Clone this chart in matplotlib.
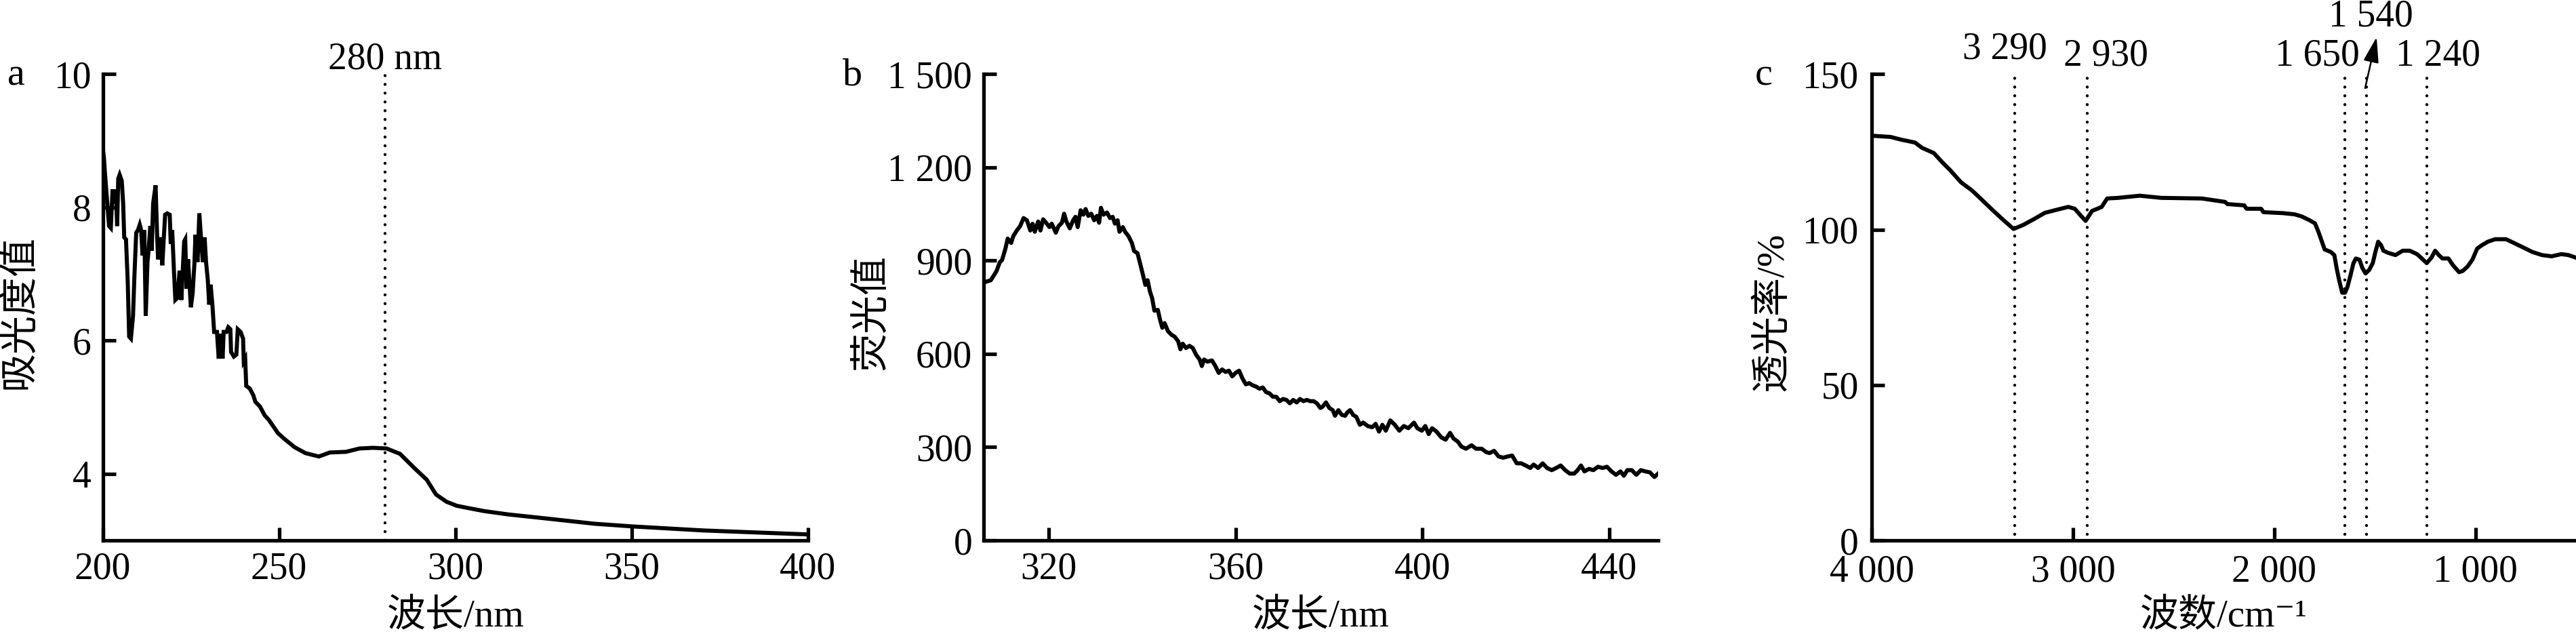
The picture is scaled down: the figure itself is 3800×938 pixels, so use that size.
import numpy as np
import matplotlib
matplotlib.use("Agg")
import matplotlib.pyplot as plt

plt.rcParams['font.family'] = ['Liberation Serif', 'Noto Sans CJK SC', 'DejaVu Sans']

# ---- panel a : UV absorbance ----
wl_a = [200.0, 200.35, 200.7, 201.3, 201.8, 202.3, 202.8, 203.2, 203.7, 204.1, 204.4, 204.8,
        205.4, 205.8, 206.1, 206.6, 207.1, 207.5, 208.0, 208.6, 209.0, 209.5, 210.0, 210.5,
        210.9, 211.3, 211.8, 212.2, 212.7, 213.0, 213.5, 213.9, 214.3, 215.0, 215.4, 215.7,
        216.4, 216.9, 217.3, 217.7, 218.3, 219.0, 219.3, 219.7, 220.2, 220.6, 221.2, 221.8,
        222.3, 222.7, 223.1, 223.4, 223.8, 224.2, 224.7, 225.0, 225.5, 226.0, 226.3, 226.9,
        227.4, 227.9, 228.4, 228.9, 229.3, 229.8, 230.2, 230.6, 231.1, 231.6, 232.4, 232.9,
        233.4, 234.0, 234.3, 235.1, 235.6, 236.2, 236.4, 237.2, 237.9, 238.3, 239.1, 239.8,
        240.0, 240.4, 240.7, 241.7, 242.7, 243.3, 244.6, 245.9, 247.1, 248.4, 249.7, 251.6,
        254.4, 257.5, 261.3, 264.4, 269.0, 272.8, 276.6, 280.5, 284.3, 288.5, 291.9, 294.5,
        297.5, 300.4, 304.2, 308.2, 315.0, 323.9, 339.5, 350.2, 370.1, 385.0, 400.0]
abs_a = [8.90, 8.74, 8.47, 8.06, 7.72, 7.69, 8.27, 8.06, 8.27, 7.72, 8.43, 8.49,
         8.40, 8.06, 7.55, 7.52, 6.88, 6.06, 6.03, 6.37, 6.98, 7.62, 7.66, 7.74,
         7.66, 7.28, 7.66, 6.37, 7.18, 7.35, 7.72, 7.35, 8.06, 8.33, 7.62, 7.22,
         7.55, 7.13, 7.52, 7.89, 7.91, 7.89, 7.45, 7.66, 7.05, 6.61, 6.64, 7.05,
         6.61, 7.05, 7.49, 7.52, 6.78, 7.22, 6.78, 6.50, 6.71, 7.15, 7.59, 7.18,
         7.91, 7.52, 7.18, 7.55, 7.18, 6.91, 6.54, 6.84, 6.54, 6.13, 6.13, 5.73,
         6.10, 5.73, 6.13, 6.13, 6.20, 6.17, 5.83, 5.76, 5.79, 6.17, 6.13, 6.03,
         5.69, 5.73, 5.32, 5.28, 5.18, 5.08, 5.01, 4.88, 4.81, 4.71, 4.61, 4.52,
         4.40, 4.31, 4.26, 4.32, 4.33, 4.38, 4.39, 4.38, 4.30, 4.08, 3.91, 3.69,
         3.58, 3.52, 3.48, 3.44, 3.39, 3.34, 3.25, 3.21, 3.15, 3.12, 3.09]

# ---- panel b : fluorescence ----
wl_b = [306.1, 307.56, 308.77, 309.49, 309.97, 310.7, 311.18, 311.91, 312.39, 313.12, 313.84,
        314.57, 315.29, 316.02, 316.5, 316.98, 317.71, 318.19, 318.77, 319.4, 320.13, 320.61,
        321.48, 322.06, 322.79, 323.27, 323.75, 324.48, 325.2, 325.69, 326.17, 326.8, 327.38,
        327.86, 328.44, 329.07, 329.7, 330.28, 330.76, 331.15, 331.73, 332.45, 333.08, 333.66,
        334.15, 334.72, 335.11, 335.84, 336.32, 337.05, 337.77, 338.25, 338.98, 339.71, 340.19,
        340.67, 341.15, 341.64, 342.12, 342.6, 343.33, 343.81, 344.3, 344.78, 345.51, 346.23,
        346.96, 347.68, 348.17, 348.65, 349.37, 350.1, 350.82, 351.55, 352.28, 352.76, 353.24,
        353.97, 354.93, 355.66, 356.38, 357.11, 357.83, 358.56, 359.28, 360.01, 360.74, 361.46,
        362.19, 362.91, 363.64, 364.36, 365.09, 365.81, 366.54, 367.26, 367.99, 368.71, 369.44,
        370.16, 370.89, 371.61, 372.34, 373.06, 373.79, 374.51, 375.24, 375.96, 376.69, 377.41,
        378.14, 378.62, 379.35, 380.07, 380.8, 381.28, 382.0, 382.73, 383.45, 383.94, 384.52,
        385.15, 385.87, 386.6, 387.32, 388.29, 389.26, 389.98, 390.71, 391.43, 392.16, 393.12,
        394.09, 395.06, 396.02, 396.99, 398.2, 398.92, 399.89, 400.62, 401.34, 402.07, 403.03,
        404.0, 404.97, 405.93, 406.66, 407.63, 408.35, 409.32, 410.53, 411.49, 412.7, 413.67,
        414.39, 415.36, 416.33, 417.3, 418.26, 419.23, 420.2, 421.16, 422.13, 423.1, 423.82,
        424.79, 425.76, 426.72, 427.69, 428.66, 429.62, 430.59, 431.56, 432.52, 433.25, 433.97,
        434.7, 435.67, 436.63, 437.6, 438.57, 439.53, 440.5, 441.47, 442.43, 443.16, 443.88,
        444.85, 445.82, 446.78, 447.75, 448.72, 449.69, 450.5]
fl_b = [830, 837, 866, 895, 902, 939, 971, 957, 979, 997, 1011,
        1037, 1030, 997, 1019, 993, 1026, 997, 1033, 1022, 1008, 1019,
        990, 1011, 1022, 1051, 1026, 1004, 1030, 1041, 1008, 1062, 1048,
        1066, 1044, 1051, 1030, 1044, 1022, 1070, 1048, 1055, 1037, 1041,
        1019, 1030, 993, 1008, 993, 979, 957, 931, 924, 881, 851,
        822, 837, 801, 779, 739, 742, 710, 684, 699, 673, 662,
        655, 641, 615, 633, 619, 626, 619, 597, 582, 561, 582,
        575, 579, 561, 539, 550, 542, 546, 528, 539, 546, 521,
        502, 506, 499, 495, 488, 492, 477, 473, 462, 462, 448,
        455, 452, 441, 452, 444, 455, 448, 452, 448, 448, 441,
        426, 430, 444, 426, 419, 401, 419, 404, 401, 412, 419,
        404, 397, 372, 379, 368, 364, 375, 350, 372, 353, 386,
        372, 353, 368, 361, 379, 361, 353, 368, 342, 361, 350,
        332, 324, 346, 328, 317, 302, 295, 306, 295, 295, 284,
        281, 288, 270, 266, 270, 273, 248, 248, 241, 233, 244,
        233, 248, 233, 226, 233, 241, 226, 215, 215, 226, 241,
        222, 230, 226, 237, 233, 237, 222, 211, 222, 208, 226,
        226, 211, 226, 222, 219, 204, 215]

# ---- panel c : FTIR ----
wn_c = [4000, 3906, 3852, 3785, 3750, 3691, 3650, 3610, 3556, 3502, 3448, 3395,
        3341, 3295, 3247, 3193, 3139, 3085, 3023, 2991, 2964, 2937, 2905, 2857,
        2830, 2776, 2668, 2561, 2359, 2244, 2232, 2149, 2137, 2065, 2053, 1958,
        1898, 1862, 1827, 1797, 1779, 1761, 1749, 1719, 1701, 1689, 1677, 1662,
        1648, 1636, 1621, 1606, 1594, 1576, 1562, 1546, 1528, 1510, 1498, 1483,
        1469, 1457, 1433, 1397, 1361, 1326, 1290, 1266, 1242, 1218, 1200, 1182,
        1164, 1134, 1111, 1081, 1063, 1039, 1015, 991, 967, 938, 902, 848,
        812, 764, 717, 669, 621, 573, 538, 502]
tr_c = [130.2, 129.8, 128.9, 128.0, 126.3, 124.6, 121.7, 119.1, 115.2, 112.6, 109.3, 106.0,
        102.8, 100.2, 101.5, 103.4, 105.4, 106.3, 107.3, 106.7, 104.7, 102.8, 106.0, 107.3,
        110.0, 110.2, 110.9, 110.2, 110.0, 108.9, 108.2, 107.8, 106.7, 106.7, 105.6, 105.3,
        104.9, 104.2, 103.1, 102.0, 99.1, 95.8, 93.6, 92.8, 91.8, 87.4, 83.7, 79.7,
        79.7, 81.5, 85.2, 89.2, 90.7, 90.3, 87.7, 85.9, 87.0, 89.2, 92.5, 96.1,
        95.0, 93.2, 92.5, 91.8, 93.2, 93.2, 92.1, 90.7, 89.2, 91.0, 93.2, 91.8,
        90.7, 90.7, 88.5, 86.3, 86.7, 88.1, 90.3, 93.9, 95.0, 96.1, 96.9, 96.9,
        95.8, 94.3, 92.8, 91.8, 91.4, 92.1, 91.8, 91.0]
peaks_c = [3290, 2930, 1650, 1540, 1240]

LW = 4.3     # data line
SW = 3.8     # spines / ticks
FS = 40


def style(ax):
    for s in ['top', 'right']:
        ax.spines[s].set_visible(False)
    for s in ['left', 'bottom']:
        ax.spines[s].set_linewidth(SW)
    ax.tick_params(direction='in', length=13.7, width=SW, pad=12, labelsize=FS)


def dotted(ax, x, y0, y1):
    ax.plot([x, x], [y0, y1], color='black', lw=3.2, ls=(0, (0.01, 2.9)),
            dash_capstyle='round', zorder=1)


fig = plt.figure(figsize=(38, 9.38), dpi=100)

ax_a = fig.add_axes([0.03987, 0.1503, 0.2738, 0.7331])
ax_b = fig.add_axes([0.3818, 0.1503, 0.2619, 0.7331])
ax_c = fig.add_axes([0.7266, 0.1503, 0.2734, 0.7331])

# a
ax_a.plot(wl_a, abs_a, color='black', lw=LW, solid_joinstyle='miter')
ax_a.set_xlim(200, 400)
ax_a.set_ylim(3, 10)
ax_a.set_xticks([200, 250, 300, 350, 400])
ax_a.set_yticks([4, 6, 8, 10])
dotted(ax_a, 280, 3, 10)
ax_a.annotate('280 nm', xy=(280, 10), xytext=(0, 6), textcoords='offset points',
              ha='center', va='baseline', fontsize=FS, annotation_clip=False)
ax_a.set_xlabel('波长/nm', fontsize=41)
ax_a.set_ylabel('吸光度值', fontsize=41, va='center')
ax_a.xaxis.set_label_coords(0.5, -0.125)
ax_a.yaxis.set_label_coords(-0.117, 0.49)
style(ax_a)

# b
ax_b.plot(wl_b, fl_b, color='black', lw=LW)
ax_b.set_xlim(306, 450.5)
ax_b.set_ylim(0, 1500)
ax_b.set_xticks([320, 360, 400, 440])
ax_b.set_yticks([0, 300, 600, 900, 1200, 1500])
ax_b.set_yticklabels(['0', '300', '600', '900', '1 200', '1 500'])
ax_b.set_xlabel('波长/nm', fontsize=41)
ax_b.set_ylabel('荧光值', fontsize=41, va='center')
ax_b.xaxis.set_label_coords(0.5, -0.125)
ax_b.yaxis.set_label_coords(-0.166, 0.49)
style(ax_b)

# c
ax_c.plot(wn_c, tr_c, color='black', lw=LW)
ax_c.set_xlim(4000, 500)
ax_c.set_ylim(0, 150)
ax_c.set_xticks([4000, 3000, 2000, 1000])
ax_c.set_xticklabels(['4 000', '3 000', '2 000', '1 000'])
ax_c.set_yticks([0, 50, 100, 150])
for p in peaks_c:
    dotted(ax_c, p, 2, 150)
lab_pos = [(3337, 154.9), (2838, 152.7), (1784, 152.9), (1521, 165.4), (1184, 152.9)]
for p, (lx, ly) in zip(peaks_c, lab_pos):
    txt = f'{p // 1000} {p % 1000:03d}'
    ax_c.text(lx, ly, txt, ha='center', va='baseline', fontsize=FS, clip_on=False)
ax_c.annotate('', xy=(1491, 161.9), xytext=(1548, 145.5), annotation_clip=False,
              arrowprops=dict(arrowstyle='-|>,head_length=2.3,head_width=0.7',
                              color='black', lw=1.8, shrinkA=0, shrinkB=0))
ax_c.set_xlabel('波数/cm⁻¹', fontsize=41)
ax_c.set_ylabel('透光率/%', fontsize=41, va='center')
ax_c.xaxis.set_label_coords(0.5, -0.125)
ax_c.yaxis.set_label_coords(-0.141, 0.49)
style(ax_c)
ax_c.tick_params(axis='x', pad=15)
ax_c.tick_params(axis='y', pad=14)

# panel letters
fig.text(24 / 3800, 1 - 125 / 938, 'a', fontsize=42, ha='center', va='baseline')
fig.text(1258 / 3800, 1 - 125 / 938, 'b', fontsize=42, ha='center', va='baseline')
fig.text(2602 / 3800, 1 - 125 / 938, 'c', fontsize=42, ha='center', va='baseline')

fig.savefig('out.png', dpi=100)
